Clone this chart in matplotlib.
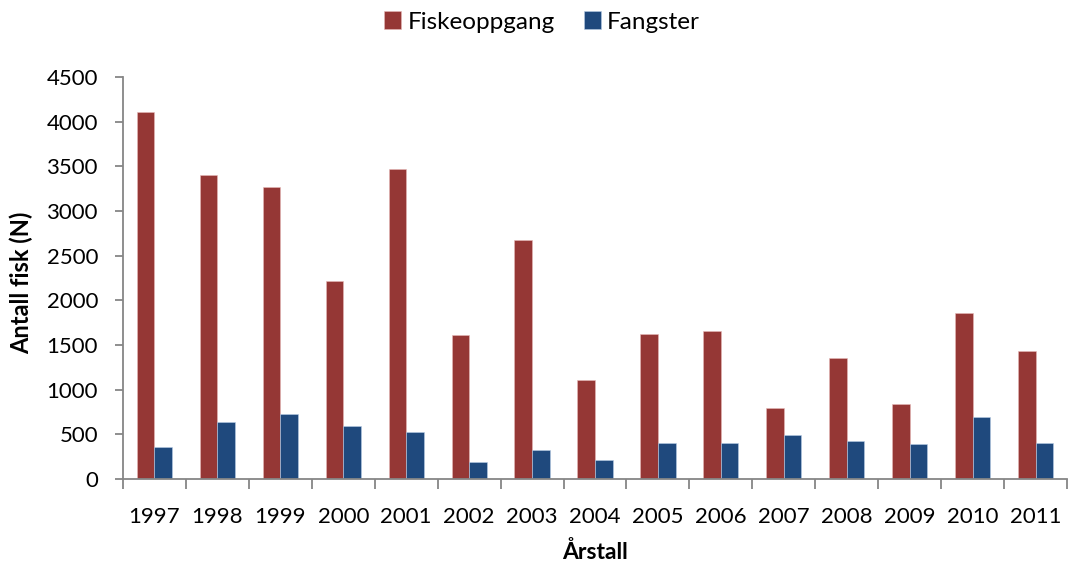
import numpy as np
import matplotlib.pyplot as plt
from matplotlib.ticker import FixedLocator

plt.rcParams['font.family'] = ['Lato', 'DejaVu Sans']

# --- DATA ---
years = ['1997', '1998', '1999', '2000', '2001', '2002', '2003', '2004',
         '2005', '2006', '2007', '2008', '2009', '2010', '2011']
fiskeoppgang = [4110, 3400, 3265, 2215, 3470, 1615, 2670, 1110,
                1625, 1655, 790, 1350, 840, 1860, 1435]
fangster = [360, 640, 725, 595, 525, 190, 330, 212,
            405, 405, 492, 428, 391, 693, 402]

RED = '#953735'
BLUE = '#1F497D'
AXIS = '#868686'

fig = plt.figure(figsize=(10.68, 5.66), dpi=100)
ax = fig.add_axes([123 / 1068, 1 - 479 / 566, 944 / 1068, 402 / 566])

x = np.arange(len(years))
w = 0.28
ax.bar(x - w / 2, fiskeoppgang, width=w, color=RED, edgecolor='#e6b9b8', linewidth=0.4, label='Fiskeoppgang')
ax.bar(x + w / 2, fangster, width=w, color=BLUE, edgecolor='#b9cde5', linewidth=0.4, label='Fangster')

ax.set_xlim(-0.5, len(years) - 0.5)
ax.set_ylim(0, 4500)
ax.set_yticks(np.arange(0, 4501, 500))
ax.set_xticks(x)
ax.set_xticklabels(years)
ax.xaxis.set_minor_locator(FixedLocator(np.arange(-0.5, len(years), 1.0)))

ax.tick_params(axis='x', which='major', length=0, pad=20, labelsize=16, colors='black')
ax.tick_params(axis='x', which='minor', length=7, width=1.3, color=AXIS, direction='out')
ax.tick_params(axis='y', length=6, width=1.3, color=AXIS, labelsize=16, pad=12)

for s in ['top', 'right']:
    ax.spines[s].set_visible(False)
for s in ['left', 'bottom']:
    ax.spines[s].set_color(AXIS)
    ax.spines[s].set_linewidth(1.3)

ax.set_ylabel('Antall fisk (N)', fontsize=17, fontweight='bold')
ax.yaxis.set_label_coords(-(123 - 33) / 944, (479 - 283) / 402)
ax.set_xlabel('Årstall', fontsize=16.5, fontweight='bold')
ax.xaxis.set_label_coords(0.5, -(541 - 479) / 402)

fig.legend(loc='center', bbox_to_anchor=(542 / 1068, 1 - 22 / 566), ncol=2, frameon=False,
           fontsize=17.5, handlelength=0.7, handleheight=0.7, columnspacing=1.2, handletextpad=0.25)

fig.savefig('out.png', dpi=100)
